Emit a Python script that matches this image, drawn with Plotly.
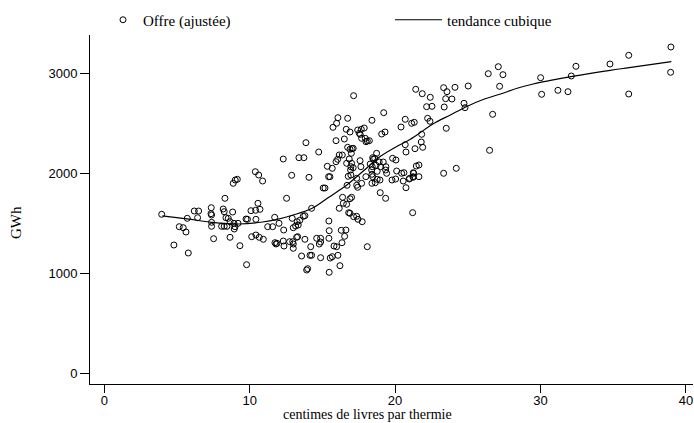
import plotly.graph_objects as go

# Scatter data: price (pence per therm) vs supply (GWh, adjusted)
prix = [
    3.95, 4.79, 5.16, 5.43, 5.62, 5.78, 5.71, 6.19, 6.49, 6.42,
    7.36, 7.34, 7.38, 7.38, 7.38, 7.52, 8.18, 8.25, 8.30, 8.37,
    8.53, 8.07, 8.25, 8.44, 8.65, 8.83, 8.87, 9.01, 9.15, 8.65,
    8.92, 9.20, 8.99, 8.94, 9.33, 9.75, 9.85, 9.79, 10.09, 10.41,
    10.71, 10.14, 10.43, 10.66, 10.94, 10.39, 10.62, 10.89, 10.43, 10.57,
    11.24, 11.58, 11.72, 12.02, 12.31, 12.34, 11.74, 11.81, 11.88, 12.31,
    12.36, 12.54, 12.75, 12.96, 13.00, 13.00, 12.89, 12.93, 13.00, 13.16,
    13.27, 13.34, 13.45, 13.23, 13.30, 13.39, 13.73, 13.57, 13.69, 13.80,
    13.80, 13.87, 13.92, 13.99, 14.08, 14.15, 14.26, 14.20, 14.26, 14.61,
    14.75, 14.79, 14.88, 14.88, 14.88, 15.06, 15.18, 15.34, 15.68, 15.43,
    15.52, 15.45, 15.47, 15.45, 15.47, 15.54, 15.68, 15.73, 15.98, 15.80,
    15.98, 15.94, 16.05, 16.16, 16.07, 16.16, 16.21, 16.30, 16.62, 16.35,
    16.37, 16.44, 16.53, 16.51, 16.64, 16.90, 16.67, 16.90, 16.67, 17.01,
    16.74, 16.90, 16.99, 17.04, 17.12, 16.81, 16.90, 16.78, 16.85, 17.01,
    17.36, 17.45, 17.74, 17.36, 17.43, 17.54, 17.68, 17.88, 17.59, 18.09,
    17.15, 16.07, 16.74, 18.41, 19.22, 19.08, 19.31, 20.41, 20.70, 21.14,
    21.32, 21.42, 21.87, 22.42, 22.17, 22.54, 22.24, 22.40, 23.38, 23.48,
    23.91, 23.34, 23.57, 24.12, 24.74, 24.81, 25.03, 23.52, 21.83, 21.80,
    21.90, 21.37, 20.70, 20.75, 19.83, 20.06, 18.41, 18.98, 19.35, 20.11,
    20.45, 20.61, 20.75, 20.04, 20.98, 21.28, 21.23, 21.64, 21.46, 21.64,
    21.21, 23.34, 24.21, 26.50, 26.71, 26.41, 27.10, 27.42, 27.19, 30.01,
    30.08, 31.20, 31.89, 32.12, 32.44, 34.78, 36.07, 36.07, 38.97, 38.95,
    17.60, 17.70, 17.95, 18.09, 18.23, 18.00, 18.73, 18.46, 18.50, 18.60,
    18.29, 18.69, 18.43, 18.91, 19.19, 19.00, 19.37, 18.39, 18.77, 19.35,
    19.42, 20.56, 21.00, 19.79, 18.77, 18.96, 18.64, 18.41, 18.46, 17.99,
    17.70, 16.96, 17.36, 17.43, 16.96, 17.12, 16.94, 17.65, 16.39, 15.94,
    16.70, 17.15, 21.25, 21.25,
]
offre = [
    1590, 1283, 1466, 1456, 1413, 1203, 1550, 1623, 1623, 1556,
    1656, 1596, 1583, 1510, 1470, 1346, 1643, 1616, 1750, 1556,
    1550, 1470, 1470, 1470, 1360, 1613, 1900, 1933, 1940, 1516,
    1500, 1500, 1466, 1443, 1276, 1543, 1540, 1086, 1626, 1630,
    1640, 1366, 1383, 1360, 1340, 2016, 1983, 1923, 1540, 1700,
    1466, 1466, 1560, 1500, 2143, 1433, 1306, 1293, 1300, 1323,
    1273, 1750, 1316, 1316, 1293, 1250, 1980, 1550, 1456, 1473,
    1516, 1483, 1530, 1360, 1366, 2156, 2156, 1173, 1570, 1576,
    1340, 2306, 1033, 1046, 1960, 1180, 1180, 1266, 1650, 1350,
    2213, 1293, 1313, 1350, 1156, 1853, 1853, 2070, 2050, 1966,
    1966, 1523, 1426, 1350, 1010, 1153, 1166, 2460, 2500, 1273,
    1266, 2326, 2140, 2183, 1180, 1650, 1076, 1430, 1433, 1306,
    2183, 1700, 1370, 2343, 2440, 2413, 1690, 1746, 2100, 2100,
    2260, 2240, 2200, 2246, 2250, 1606, 1600, 1970, 2143, 1760,
    1570, 1540, 1516, 1880, 2433, 2400, 2440, 2453, 2126, 1266,
    2776, 2556, 2550, 2530, 2606, 2393, 2413, 2463, 2540, 2500,
    2510, 2840, 2796, 2760, 2666, 2670, 2550, 2520, 2663, 2746,
    2743, 2856, 2816, 2860, 2700, 2656, 2873, 2450, 2390, 2313,
    2260, 2246, 2286, 2213, 2150, 2133, 1900, 1806, 1750, 2023,
    2000, 2006, 1856, 1943, 1943, 2000, 1966, 1966, 2073, 2083,
    1606, 2000, 2050, 2230, 2590, 2996, 3066, 2986, 2870, 2956,
    2790, 2830, 2816, 2973, 3070, 3093, 3180, 2793, 3263, 3010,
    2390, 2350, 2350, 2323, 2326, 2316, 2200, 2156, 2140, 2150,
    2093, 2080, 2066, 2113, 2113, 2066, 2066, 2033, 2020, 2033,
    2000, 1923, 1950, 1933, 1940, 1933, 1906, 1990, 1966, 1966,
    1900, 1983, 1950, 1860, 2066, 2056, 2033, 2066, 1760, 2116,
    1880, 1566, 2006, 1960,
]

# Cubic trend line
tendance_x = [4.0, 5.7, 7.4, 9.3, 10.9, 11.9, 13.0, 14.3, 15.5, 16.7, 17.8, 19.0,
              20.2, 21.0, 21.5, 22.6, 23.8, 24.9, 26.1, 27.2, 28.4, 29.5, 30.6,
              32.1, 34.8, 36.1, 39.0]
tendance_y = [1575, 1545, 1510, 1493, 1513, 1540, 1583, 1650, 1766, 1885, 2020, 2170,
              2275, 2335, 2383, 2493, 2583, 2666, 2740, 2790, 2850, 2893, 2926,
              2966, 3030, 3056, 3116]

x_ticks = [0, 10, 20, 30, 40]
y_ticks = [0, 1000, 2000, 3000]

serif = "Liberation Serif, Times New Roman, serif"
sans = "Liberation Sans, Arial, sans-serif"

W, H = 694, 423
L, R, T, B = 90, 1, 35, 39
pw, ph = W - L - R, H - T - B


def px_x(p):  # page pixel -> paper x
    return (p - L) / pw


def px_y(p):  # page pixel -> paper y
    return (H - B - p) / ph


fig = go.Figure()
fig.add_trace(go.Scatter(
    x=prix, y=offre, mode="markers", name="Offre (ajustée)",
    marker=dict(symbol="circle-open", size=6, color="black", line=dict(width=1, color="black")),
    legend="legend",
))
fig.add_trace(go.Scatter(
    x=tendance_x, y=tendance_y, mode="lines", name="tendance cubique",
    line=dict(color="black", width=1.2, shape="spline", smoothing=1.0),
    legend="legend2",
))

fig.update_layout(
    width=W, height=H,
    margin=dict(l=L, r=R, t=T, b=B, pad=0),
    paper_bgcolor="white", plot_bgcolor="white",
    showlegend=True,
    legend=dict(x=px_x(103), y=px_y(20), xanchor="left", yanchor="middle",
                orientation="h", font=dict(family=serif, size=15, color="black"),
                bgcolor="rgba(0,0,0,0)", borderwidth=0),
    legend2=dict(x=px_x(390), y=px_y(20), xanchor="left", yanchor="middle",
                 orientation="h", itemwidth=47,
                 font=dict(family=serif, size=15, color="black"),
                 bgcolor="rgba(0,0,0,0)", borderwidth=0),
    xaxis=dict(range=[-0.98, 40.49], tickvals=x_ticks, ticks="outside", ticklen=8,
               ticklabelstandoff=-4,
               tickwidth=1, tickcolor="black", showline=True, linecolor="black",
               linewidth=1, showgrid=False, zeroline=False,
               tickfont=dict(family=sans, size=13, color="black")),
    yaxis=dict(range=[-107, 3383], tickvals=y_ticks, ticks="outside", ticklen=9,
               tickwidth=1, tickcolor="black", showline=True, linecolor="black",
               linewidth=1, showgrid=False, zeroline=False,
               tickfont=dict(family=sans, size=13, color="black")),
    annotations=[
        dict(text="centimes de livres par thermie", xref="paper", yref="paper",
             x=px_x(367), y=px_y(414), xanchor="center", yanchor="middle",
             showarrow=False, font=dict(family=serif, size=14, color="black")),
        dict(text="GWh", xref="paper", yref="paper", x=px_x(16), y=px_y(223),
             xanchor="center", yanchor="middle", textangle=-90,
             showarrow=False, font=dict(family=serif, size=15, color="black")),
    ],
)

# Remove the default 8px page margin so the figure sits at the window's top-left.
fig.write_html("out.html",
               config={"displayModeBar": False},
               post_script="document.body.style.margin='0';document.body.style.overflow='hidden';")
